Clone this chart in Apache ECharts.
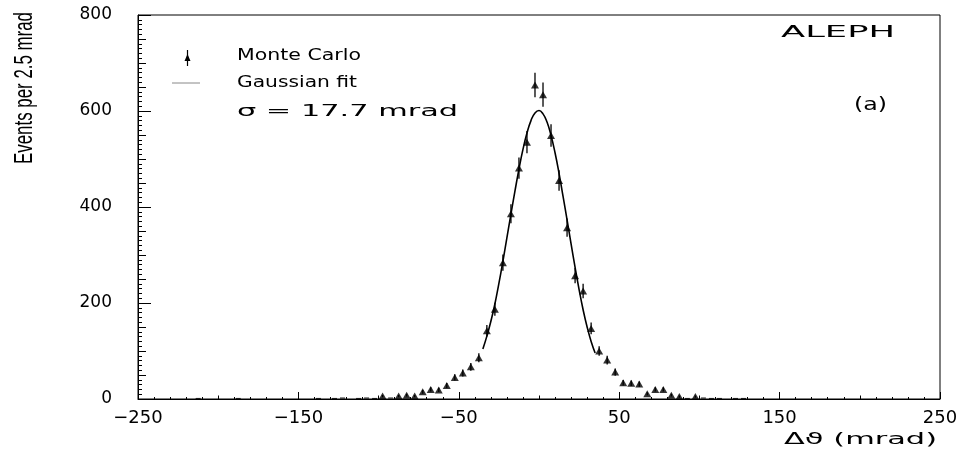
<!DOCTYPE html>
<html><head><meta charset="utf-8">
<script src="https://cdn.jsdelivr.net/npm/echarts@6/dist/echarts.min.js"></script>
<style>html,body{margin:0;padding:0;background:#fff}#c{width:971px;height:451px}</style>
</head><body><div id="c"></div>
<script>
// Monte Carlo histogram (bin centres in mrad, events per bin)
const mcX = [-97.5,-87.5,-82.5,-77.5,-72.5,-67.5,-62.5,-57.5,-52.5,-47.5,-42.5,-37.5,-32.5,-27.5,-22.5,-17.5,-12.5,-7.5,-2.5,2.5,7.5,12.5,17.5,22.5,27.5,32.5,37.5,42.5,47.5,52.5,57.5,62.5,67.5,72.5,77.5,82.5,87.5,97.5];
const mcY = [6,6,8,6,15,20,19,28,45,54,67,86,142,187,284,386,481,535,654,634,549,455,357,257,225,147,100,81,56,34,33,31,11,20,20,8,5,5];
// near-empty bins (drawn as small dashes)
const lowX = [-212.5,-187.5,-137.5,-127.5,-122.5,-112.5,-107.5,-102.5,-92.5,92.5,102.5,107.5,112.5,122.5,127.5];
const lowY = [1,1,1,1,2,1,2,1,2,1,2,1,1,1,1];
// Gaussian fit curve
const fitX = [-35,-32.5,-30,-27.5,-25,-22.5,-20,-17.5,-15,-12.5,-10,-7.5,-5,-2.5,0,2.5,5,7.5,10,12.5,15,17.5,20,22.5,25,27.5,30,32.5,35];
const fitY = [104,131,162,198,241,287,336,385,433,479,520,554,580,596,601,594,577,549,513,470,422,373,323,274,228,186,150,120,96];
// axis ticks / labels
const xLabelValues = [-250,-150,-50,50,150,250];
const xMidTicks = [-200,-100,0,100,200];
const yLabelValues = [0,200,400,600,800];

const FONT = '"DejaVu Sans", "Liberation Sans", sans-serif';
const cv = document.createElement('canvas').getContext('2d');
function measure(t, font){ cv.font = font; return cv.measureText(t).width; }
function wideText(t, x, y, width, size, align, family){
  const font = size + 'px ' + (family || FONT);
  const w = measure(t, font);
  return {type:'text', x:x, y:y, scaleX: width / w, z: 10,
    style:{text:t, font:font, fill:'#000', textAlign: align || 'left', textVerticalAlign:'middle', align: align || 'left', verticalAlign:'middle'}};
}

const chart = echarts.init(document.getElementById('c'), null, {renderer:'canvas'});
const fmtX = v => (v < 0 ? '\u2212' + Math.abs(v) : String(v));
const baseX = {type:'value', min:-250, max:250, position:'bottom', splitLine:{show:false}, gridIndex:0};
const baseY = {type:'value', min:0, max:800, position:'left', splitLine:{show:false}, gridIndex:0};

const mcData = mcX.map((x,i)=>[x, mcY[i]]);
const lowData = lowX.map((x,i)=>[x, lowY[i]]);
const fitData = fitX.map((x,i)=>[x, fitY[i]]);

const yTitle = (function(){
  const t = 'Events per 2.5 mrad';
  const fam = '"Liberation Sans Narrow", "Liberation Sans", sans-serif';
  const font = '26px ' + fam;
  const w = measure(t, font);
  return {type:'text', x:25, y:88, rotation:Math.PI/2, scaleX:152/w, z:10,
    style:{text:t, font:font, fill:'#000', textAlign:'center', textVerticalAlign:'middle', align:'center', verticalAlign:'middle'}};
})();

chart.setOption({
  animation:false,
  backgroundColor:'#fff',
  grid:{left:138, right:31, top:15, bottom:52, show:true, borderColor:'#000', borderWidth:1, backgroundColor:'transparent'},
  xAxis:[
    Object.assign({}, baseX, {
      axisLine:{show:true, onZero:false, lineStyle:{color:'#000', width:1}},
      axisTick:{show:true, inside:true, length:7, customValues:xLabelValues, lineStyle:{color:'#000'}},
      axisLabel:{show:true, customValues:xLabelValues, formatter:fmtX, color:'#000', fontFamily:FONT, fontSize:18, margin:10}
    }),
    Object.assign({}, baseX, {
      axisLine:{show:false, onZero:false}, axisLabel:{show:false},
      axisTick:{show:true, inside:true, length:3.5, customValues:xMidTicks, lineStyle:{color:'#000'}}
    }),
    Object.assign({}, baseX, {
      interval:10, axisLine:{show:false, onZero:false}, axisLabel:{show:false},
      axisTick:{show:true, inside:true, length:2, lineStyle:{color:'#000'}}
    })
  ],
  yAxis:[
    Object.assign({}, baseY, {
      interval:200,
      axisLine:{show:true, onZero:false, lineStyle:{color:'#000', width:1}},
      axisTick:{show:true, inside:true, length:13, lineStyle:{color:'#000'}},
      axisLabel:{show:true, color:'#000', fontFamily:FONT, fontSize:17, margin:26,
        customValues:yLabelValues}
    }),
    Object.assign({}, baseY, {
      interval:50, axisLine:{show:false, onZero:false}, axisLabel:{show:false},
      axisTick:{show:true, inside:true, length:8, lineStyle:{color:'#000'}}
    }),
    Object.assign({}, baseY, {
      interval:10, axisLine:{show:false, onZero:false}, axisLabel:{show:false},
      axisTick:{show:true, inside:true, length:4, lineStyle:{color:'#000'}}
    })
  ],
  series:[
    {
      name:'Gaussian fit', type:'line', data:fitData, smooth:true, showSymbol:false, symbol:'none',
      lineStyle:{color:'#000', width:1.6}, z:3
    },
    {
      name:'errors', type:'custom', data:mcData, z:4,
      renderItem:function(params, api){
        const x = api.value(0), y = api.value(1), e = Math.sqrt(y);
        const p = api.coord([x, y - e]), q = api.coord([x, y + e]);
        return {type:'line', shape:{x1:p[0], y1:p[1], x2:q[0], y2:q[1]}, style:{stroke:'#000', lineWidth:1.3}};
      }
    },
    {
      name:'Monte Carlo', type:'scatter', data:mcData, symbol:'triangle', symbolSize:[8,7],
      itemStyle:{color:'#000'}, z:5
    },
    {
      name:'low', type:'scatter', data:lowData, symbol:'rect', symbolSize:[5,1.2],
      itemStyle:{color:'#000'}, z:5
    }
  ],
  graphic:[
    yTitle,
    wideText('\u0394\u03d1 (mrad)', 784, 440, 153, 15),
    wideText('ALEPH', 781, 33.5, 114, 15),
    wideText('(a)', 854, 105, 33, 18),
    wideText('Monte Carlo', 237, 56, 124, 15),
    wideText('Gaussian fit', 237, 83, 120, 15),
    wideText('\u03c3 = 17.7 mrad', 237, 112, 221, 15),
    {type:'line', shape:{x1:187.5, y1:50, x2:187.5, y2:66}, style:{stroke:'#000', lineWidth:1.2}, z:10},
    {type:'polygon', shape:{points:[[184.5,61],[190.5,61],[187.5,54]]}, style:{fill:'#000'}, z:10},
    {type:'line', shape:{x1:172, y1:83, x2:200, y2:83}, style:{stroke:'#888', lineWidth:1}, z:10}
  ]
});
</script>
</body></html>
